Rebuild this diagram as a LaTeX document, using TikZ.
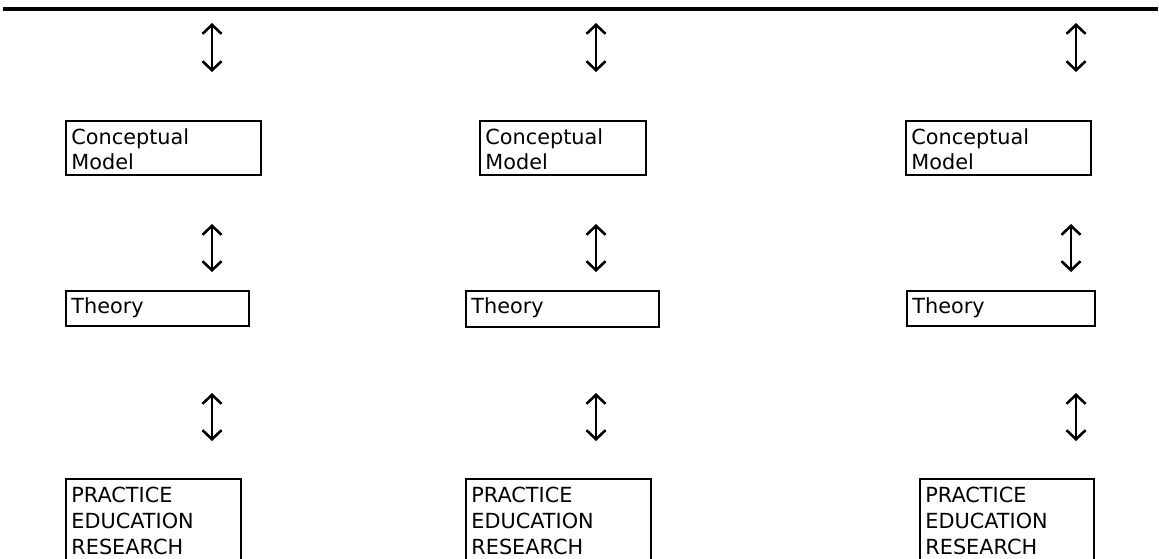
\documentclass[tikz,border=0pt]{standalone}
\usepackage{fontspec}
\setmainfont{DejaVu Sans}
\usetikzlibrary{arrows.meta,fit}
\begin{document}
\begin{tikzpicture}[x=0.5pt,y=-0.5pt,
  box/.style={draw=black,line width=1.2pt,inner sep=0pt,rectangle},
  lbl/.style={anchor=north west,inner sep=0pt,align=left,font=\fontsize{10.4}{12.2}\selectfont},
  lblp/.style={lbl,font=\fontsize{10.4}{12.8}\selectfont},
  twoway/.style={line width=1.3pt,{Straight Barb[length=4.5pt,width=9.5pt]}-{Straight Barb[length=4.5pt,width=9.5pt]}},
  rule/.style={line width=2.2pt}]
\useasboundingbox (0,0) rectangle (1159,558);
\clip (0,0) rectangle (1159,558);

% top rule
\coordinate (ruleL) at (3,9);
\coordinate (ruleR) at (1158,9);
\draw[rule] (ruleL) -- (ruleR);

% ---- column 1 ----
\node[box,fit={(66,121) (261,175)}] (cm1) {};
\node[lbl] (cm1t) at (71,127.5) {\strut Conceptual\\\strut Model};
\node[box,fit={(66,291) (249,326)}] (th1) {};
\node[lbl] (th1t) at (71,296.2) {\strut Theory};
\node[box,fit={(66,479) (241,575)}] (pe1) {};
\node[lblp] (pe1t) at (71,484.6) {\strut PRACTICE\\\strut EDUCATION\\\strut RESEARCH};
\coordinate (a1t) at (212,23);  \coordinate (a1b) at (212,72);
\coordinate (b1t) at (212,224); \coordinate (b1b) at (212,272);
\coordinate (c1t) at (212,393); \coordinate (c1b) at (212,441);
\draw[twoway] (a1t) -- (a1b);
\draw[twoway] (b1t) -- (b1b);
\draw[twoway] (c1t) -- (c1b);

% ---- column 2 ----
\node[box,fit={(480,121) (646,175)}] (cm2) {};
\node[lbl] (cm2t) at (485,127.5) {\strut Conceptual\\\strut Model};
\node[box,fit={(466,291) (659,327)}] (th2) {};
\node[lbl] (th2t) at (471,296.2) {\strut Theory};
\node[box,fit={(466,479) (651,575)}] (pe2) {};
\node[lblp] (pe2t) at (471,484.6) {\strut PRACTICE\\\strut EDUCATION\\\strut RESEARCH};
\coordinate (a2t) at (596,23);  \coordinate (a2b) at (596,72);
\coordinate (b2t) at (596,224); \coordinate (b2b) at (596,272);
\coordinate (c2t) at (596,393); \coordinate (c2b) at (596,441);
\draw[twoway] (a2t) -- (a2b);
\draw[twoway] (b2t) -- (b2b);
\draw[twoway] (c2t) -- (c2b);

% ---- column 3 ----
\node[box,fit={(906,121) (1091,175)}] (cm3) {};
\node[lbl] (cm3t) at (911,127.5) {\strut Conceptual\\\strut Model};
\node[box,fit={(907,291) (1095,326)}] (th3) {};
\node[lbl] (th3t) at (912,296.2) {\strut Theory};
\node[box,fit={(920,479) (1094,575)}] (pe3) {};
\node[lblp] (pe3t) at (925,484.6) {\strut PRACTICE\\\strut EDUCATION\\\strut RESEARCH};
\coordinate (a3t) at (1076,23);  \coordinate (a3b) at (1076,72);
\coordinate (b3t) at (1071,224); \coordinate (b3b) at (1071,272);
\coordinate (c3t) at (1076,393); \coordinate (c3b) at (1076,441);
\draw[twoway] (a3t) -- (a3b);
\draw[twoway] (b3t) -- (b3b);
\draw[twoway] (c3t) -- (c3b);
\end{tikzpicture}
\end{document}
